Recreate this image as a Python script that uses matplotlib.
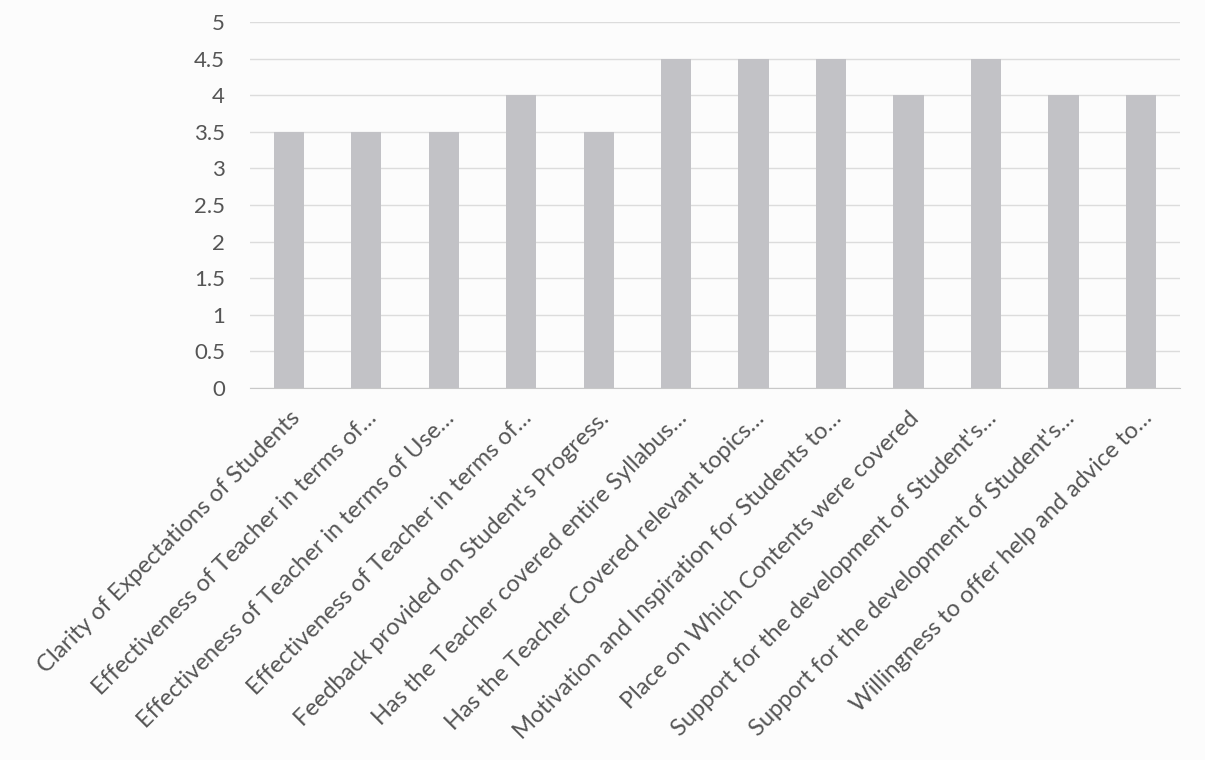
import numpy as np
import matplotlib
matplotlib.use("Agg")
import matplotlib.pyplot as plt

# Data
labels = [
    "Clarity of Expectations of Students",
    "Effectiveness of Teacher in terms of…",
    "Effectiveness of Teacher in terms of Use…",
    "Effectiveness of Teacher in terms of…",
    "Feedback provided on Student's Progress.",
    "Has the Teacher covered entire Syllabus…",
    "Has the Teacher Covered relevant topics…",
    "Motivation and Inspiration for Students to…",
    "Place on Which Contents were covered",
    "Support for the development of Student's…",
    "Support for the development of Student's…",
    "Willingness to offer help and advice to…",
]
scores = [3.5, 3.5, 3.5, 4, 3.5, 4.5, 4.5, 4.5, 4, 4.5, 4, 4]
yticks = [0, 0.5, 1, 1.5, 2, 2.5, 3, 3.5, 4, 4.5, 5]

plt.rcParams['font.family'] = ['Lato', 'DejaVu Sans']

fig = plt.figure(figsize=(12.05, 7.6), dpi=100, facecolor='#fcfcfc')
ax = fig.add_axes([0.2075, 0.4895, 0.7715, 0.4815])
ax.set_facecolor('#fcfcfc')

x = np.arange(len(labels))
ax.bar(x, scores, width=0.39, color='#c2c2c6', zorder=2)

ax.set_xlim(-0.5, len(labels) - 0.5)
ax.set_ylim(0, 5)
ax.set_yticks(yticks)
ax.set_yticklabels([("%g" % v) for v in yticks], fontsize=16, color='#555555')
ax.set_xticks(x)
ax.set_xticklabels(labels, rotation=45, ha='right', rotation_mode='anchor',
                   fontsize=17, color='#555555')
ax.tick_params(axis='both', length=0)
ax.tick_params(axis='y', pad=18)
ax.tick_params(axis='x', pad=14)

ax.grid(axis='y', color='#dcdcdc', linewidth=1, zorder=0)
for side in ['top', 'right', 'left']:
    ax.spines[side].set_visible(False)
ax.spines['bottom'].set_color('#c8c8c8')

fig.savefig('out.png', dpi=100, facecolor=fig.get_facecolor())
